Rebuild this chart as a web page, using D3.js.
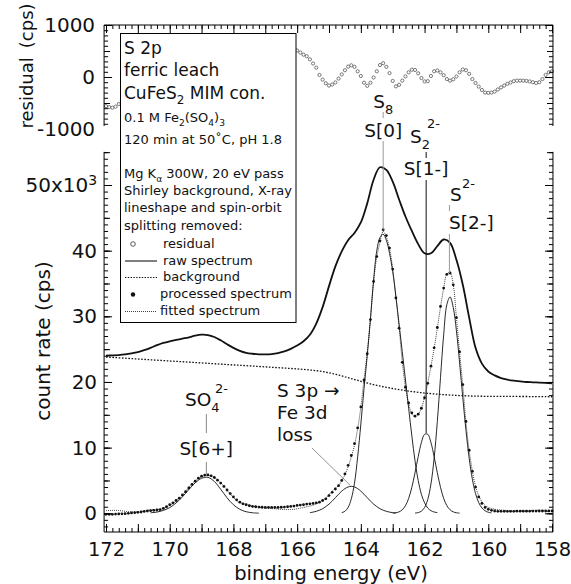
<!DOCTYPE html>
<html>
<head>
<meta charset="utf-8">
<title>S 2p ferric leach</title>
<script src="https://cdn.jsdelivr.net/npm/d3@7"></script>
<style>
  body { margin: 0; background: #fff; }
  svg text { font-family: "DejaVu Sans", sans-serif; fill: #111; }
</style>
</head>
<body>
<svg id="chart" width="571" height="584"></svg>
<script>
// tick labels
var xTickLabels = [172, 170, 168, 166, 164, 162, 160, 158];
var yTickLabels = [0, 10, 20, 30, 40, 50];
var residTickLabels = [-1000, 0, 1000];

// binding energy grid (eV) of processed spectrum + residual, 0.1 eV steps
var energy = d3.range(0, 141).map(function (i) { return +(172 - i * 0.1).toFixed(1); });

// processed spectrum (10^3 cps)
var processed = [
  -0.15, -0.15, -0.15, -0.12, -0.10, -0.08, -0.05, 0.00, 0.05, 0.10,
  0.15, 0.20, 0.28, 0.35, 0.40, 0.45, 0.50, 0.55, 0.75, 1.00,
  1.30, 1.60, 1.95, 2.30, 2.80, 3.30, 3.85, 4.40, 4.90, 5.35,
  5.65, 5.82, 5.85, 5.70, 5.45, 5.05, 4.60, 4.10, 3.55, 3.00,
  2.50, 2.05, 1.70, 1.45, 1.30, 1.15, 1.05, 1.00, 0.95, 0.92,
  0.90, 0.90, 0.90, 0.90, 0.90, 0.92, 0.95, 1.00, 1.05, 1.10,
  1.20, 1.25, 1.30, 1.40, 1.45, 1.50, 1.60, 1.70, 1.95, 2.20,
  2.70, 3.20, 3.70, 4.20, 5.00, 6.00, 7.30, 8.80, 10.6, 13.0,
  16.2, 20.3, 24.3, 29.5, 35.3, 39.1, 41.5, 43.2, 42.3, 40.4,
  37.2, 32.8, 28.2, 23.0, 19.2, 16.8, 15.3, 14.8, 15.1, 16.0,
  17.6, 19.8, 22.4, 25.2, 28.3, 31.5, 34.3, 36.4, 36.6, 34.8,
  29.8, 24.6, 19.6, 14.0, 9.6, 6.4, 4.0, 2.5, 1.5, 0.9,
  0.60, 0.45, 0.35, 0.30, 0.30, 0.30, 0.30, 0.30, 0.30, 0.32,
  0.32, 0.32, 0.33, 0.33, 0.34, 0.34, 0.35, 0.35, 0.35, 0.36,
  0.36
];

// residual (cps)
var residual = [
  -560, -580, -590, -570, -520, -450, -360, -260, -170, -100,
  -60, -40, -50, -80, -110, -120, -100, -60, 0, 60,
  100, 110, 90, 40, -20, -70, -90, -70, -20, 40,
  90, 110, 90, 40, -20, -60, -70, -40, 10, 60,
  90, 80, 40, -10, -50, -60, -40, 0, 50, 90,
  120, 140, 170, 210, 260, 320, 380, 430, 470, 500,
  510, 470, 430, 400, 340, 260, 180, 40, -50, -120,
  -165, -145, -105, -30, 50, 130, 200, 225, 195, 110,
  20, -110, -170, -110, -10, 110, 230, 265, 195, 75,
  -75, -180, -150, -70, 10, 90, 140, 135, 70, -20,
  -85, -80, 20, 110, 125, 90, 35, -40, -70, -45,
  10, 90, 145, 130, 60, -40, -115, -185, -250, -300,
  -305, -300, -280, -240, -200, -165, -130, -105, -80, -70,
  -70, -70, -75, -85, -100, -115, -100, -40, 40, 90,
  110
];

// raw spectrum (10^3 cps), 0.2 eV steps
var rawEnergy = d3.range(0, 71).map(function (i) { return +(172 - i * 0.2).toFixed(1); });
var raw = [
  24.0, 24.05, 24.1, 24.2, 24.35, 24.55, 24.85, 25.2, 25.6, 25.95,
  26.2, 26.4, 26.6, 26.8, 27.05, 27.2, 27.15, 26.85, 26.35, 25.75,
  25.2, 24.75, 24.45, 24.3, 24.2, 24.2, 24.25, 24.4, 24.65, 25.05,
  25.55, 26.2, 27.2, 28.9, 31.4, 34.6, 37.6, 39.9, 41.6, 42.7,
  44.3, 47.2, 50.8, 52.7, 52.3, 50.5, 47.8, 45.2, 43.0, 41.0,
  39.6, 39.6, 40.7, 41.7, 41.2, 38.6, 34.8, 29.8, 25.2, 22.8,
  21.6, 21.0, 20.6, 20.35, 20.2, 20.1, 20.0, 19.95, 19.9, 19.85,
  19.8
];

// Shirley background (10^3 cps)
var bgEnergy = [172, 171.5, 171, 170.5, 170, 169.5, 169, 168.5, 168, 167.5, 167, 166.5, 166,
                165.5, 165, 164.5, 164, 163.5, 163, 162.5, 162, 161.5, 161, 160.5, 160, 159, 158];
var background = [23.8, 23.65, 23.5, 23.35, 23.2, 23.05, 22.9, 22.75, 22.6, 22.45, 22.3, 22.15, 22.0,
                  21.8, 21.45, 20.8, 20.1, 19.45, 19.0, 18.6, 18.3, 18.1, 17.95, 17.85, 17.8, 17.8, 17.75];

// fitted components [eV, 10^3 cps]
var compSO4 = [[170.6, 0.08], [170.4, 0.19], [170.2, 0.44], [170.0, 0.87], [169.8, 1.57], [169.6, 2.51],
  [169.4, 3.61], [169.2, 4.64], [169.0, 5.33], [168.8, 5.47], [168.6, 4.85], [168.4, 3.67], [168.2, 2.36],
  [168.0, 1.30], [167.8, 0.61], [167.6, 0.24], [167.4, 0.08], [167.2, 0.02]];
var compLoss = [[165.6, 0.10], [165.5, 0.18], [165.4, 0.30], [165.3, 0.47], [165.2, 0.70], [165.1, 1.02],
  [165.0, 1.40], [164.9, 1.86], [164.8, 2.38], [164.7, 2.90], [164.6, 3.38], [164.5, 3.76], [164.4, 4.01],
  [164.3, 4.10], [164.2, 4.01], [164.1, 3.76], [164.0, 3.38], [163.9, 2.90], [163.8, 2.38], [163.7, 1.86],
  [163.6, 1.40], [163.5, 1.02], [163.4, 0.70], [163.3, 0.47], [163.2, 0.30], [163.1, 0.18], [163.0, 0.10],
  [162.9, 0.06]];
var compS0 = [[164.6, 0.1], [164.5, 0.3], [164.4, 0.9], [164.3, 2.2], [164.2, 4.6], [164.1, 8.6],
  [164.0, 13.6], [163.9, 19.0], [163.8, 24.0], [163.7, 29.5], [163.6, 35.5], [163.5, 40.0], [163.4, 42.0],
  [163.3, 42.5], [163.2, 41.6], [163.1, 39.6], [163.0, 36.8], [162.9, 33.0], [162.8, 28.8], [162.7, 24.6],
  [162.6, 20.3], [162.5, 16.0], [162.4, 11.8], [162.3, 8.0], [162.2, 5.0], [162.1, 2.9], [162.0, 1.6],
  [161.9, 0.8], [161.8, 0.4], [161.7, 0.2], [161.6, 0.1]];
var compS1 = [[163.0, 0.03], [162.9, 0.08], [162.8, 0.22], [162.7, 0.54], [162.6, 1.16], [162.5, 2.27],
  [162.4, 3.96], [162.3, 6.18], [162.2, 8.62], [162.1, 10.77], [162.0, 12.03], [161.9, 12.03], [161.8, 10.77],
  [161.7, 8.62], [161.6, 6.18], [161.5, 3.96], [161.4, 2.27], [161.3, 1.16], [161.2, 0.54], [161.1, 0.22],
  [161.0, 0.08], [160.9, 0.03]];
var compS2 = [[162.3, 0.03], [162.2, 0.11], [162.1, 0.33], [162.0, 0.88], [161.9, 2.11], [161.8, 4.46],
  [161.7, 8.38], [161.6, 13.97], [161.5, 20.69], [161.4, 27.2], [161.3, 31.8], [161.2, 32.95], [161.1, 31.35],
  [161.0, 27.8], [160.9, 22.9], [160.8, 17.6], [160.7, 12.6], [160.6, 8.4], [160.5, 5.2], [160.4, 3.0],
  [160.3, 1.63], [160.2, 0.82], [160.1, 0.38], [160.0, 0.16], [159.9, 0.06]];

// peak positions (eV) used for the labels
var peakSO4 = 168.85, peakLoss = 164.3, peakS0 = 163.3, peakS1 = 161.95, peakS2 = 161.22;

var svg = d3.select("#chart");

// scales
var x = d3.scaleLinear().domain([172, 158]).range([106, 552]);
var y = d3.scaleLinear().domain([0, 50]).range([513.3, 185]);
var yr = d3.scaleLinear().domain([-1000, 1000]).range([129, 25]);
var xL = x(172.06), xR = x(157.97);
var yB = y(-2.85), yT = y(55.05);
var rT = yr(1000), rB = yr(-942);

// ---------- residual panel ----------
svg.append("g").selectAll("circle")
  .data(energy.map(function (e, i) { return [e, residual[i]]; }))
  .enter().append("circle")
  .attr("cx", function (d) { return x(d[0]); })
  .attr("cy", function (d) { return yr(d[1]); })
  .attr("r", 1.6)
  .attr("fill", "#fff")
  .attr("stroke", "#444")
  .attr("stroke-width", 0.7);

// ---------- main panel lines ----------
var line = d3.line()
  .x(function (d) { return x(d[0]); })
  .y(function (d) { return y(d[1]); });

function drawLine(data, width, dash, curve) {
  svg.append("path")
    .datum(data)
    .attr("fill", "none")
    .attr("stroke", "#111")
    .attr("stroke-width", width)
    .attr("stroke-dasharray", dash)
    .attr("d", line.curve(curve || d3.curveCatmullRom)(data));
}

// components
[compSO4, compLoss, compS0, compS1, compS2].forEach(function (c) { drawLine(c, 0.9, null); });

// background
drawLine(bgEnergy.map(function (e, i) { return [e, background[i]]; }), 1.3, "1.6,1.6", d3.curveBasis);

// raw spectrum
drawLine(rawEnergy.map(function (e, i) { return [e, raw[i]]; }), 1.8, null);

// fitted spectrum = processed - residual
var fitted = energy.map(function (e, i) { return [e, processed[i] - residual[i] / 1000]; });
drawLine(fitted, 0.8, "1,1");

// processed spectrum dots
svg.append("g").selectAll("circle")
  .data(energy.map(function (e, i) { return [e, processed[i]]; }))
  .enter().append("circle")
  .attr("cx", function (d) { return x(d[0]); })
  .attr("cy", function (d) { return y(d[1]); })
  .attr("r", 1.4)
  .attr("fill", "#111");

// ---------- frames and ticks ----------
function frame(x1, y1, x2, y2) {
  svg.append("line").attr("x1", x1).attr("y1", y1).attr("x2", x2).attr("y2", y2)
    .attr("stroke", "#000").attr("stroke-width", 1);
}
frame(xL, yT, xL, yB);
frame(xL, yB, xR, yB);
frame(xR, yT, xR, yB);
frame(xL, rT, xL, rB);
frame(xL, rT, xR, rT);
frame(xR, rT, xR, rB);

function ticks(axis, tx, ty) {
  var g = svg.append("g").attr("transform", "translate(" + tx + "," + ty + ")")
    .attr("color", "#000").call(axis);
  g.select(".domain").remove();
  return g;
}
var xMinor = d3.range(1580, 1721, 2).map(function (v) { return v / 10; });
var xMajor = d3.range(158, 173);
ticks(d3.axisBottom(x).tickValues(xMinor).tickSize(-4).tickFormat(""), 0, yB);
ticks(d3.axisBottom(x).tickValues(xMajor).tickSize(-8).tickFormat(""), 0, yB);
ticks(d3.axisTop(x).tickValues(xMinor).tickSize(-4).tickFormat(""), 0, rT);
ticks(d3.axisTop(x).tickValues(xMajor).tickSize(-8).tickFormat(""), 0, rT);

var yMinor = d3.range(-2, 56), yMid = d3.range(0, 56, 5);
[[d3.axisLeft, xL], [d3.axisRight, xR]].forEach(function (a) {
  ticks(a[0](y).tickValues(yMinor).tickSize(-4).tickFormat(""), a[1], 0);
  ticks(a[0](y).tickValues(yMid).tickSize(-6).tickFormat(""), a[1], 0);
  ticks(a[0](y).tickValues(yTickLabels).tickSize(-8).tickFormat(""), a[1], 0);
  ticks(a[0](yr).tickValues(d3.range(-900, 1001, 100)).tickSize(-4).tickFormat(""), a[1], 0);
  ticks(a[0](yr).tickValues([-500, 500]).tickSize(-6).tickFormat(""), a[1], 0);
  ticks(a[0](yr).tickValues([0, 1000]).tickSize(-8).tickFormat(""), a[1], 0);
});

// tick labels
function plain(d) { return String(d); }
var gx = ticks(d3.axisBottom(x).tickValues(xTickLabels).tickSize(0).tickPadding(10).tickFormat(plain), 0, yB);
gx.selectAll("text").attr("font-size", 19.5).attr("font-family", "DejaVu Sans").attr("fill", "#111");
var gy = ticks(d3.axisLeft(y).tickValues(yTickLabels).tickSize(0).tickPadding(7).tickFormat(plain), xL, 0);
gy.selectAll("text").attr("font-size", 20).attr("font-family", "DejaVu Sans").attr("fill", "#111")
  .each(function (d) {
    if (d === 50) {
      var t = d3.select(this).text("50x10");
      t.append("tspan").attr("dy", "-0.5em").attr("font-size", 14).text("3");
    }
  });
var gr = ticks(d3.axisLeft(yr).tickValues(residTickLabels).tickSize(0).tickPadding(9).tickFormat(plain), xL, 0);
gr.selectAll("text").attr("font-size", 20).attr("font-family", "DejaVu Sans").attr("fill", "#111");

// axis titles
svg.append("text").attr("transform", "translate(33,66) rotate(-90)")
  .attr("text-anchor", "middle").attr("font-size", 18).text("residual\u2002(cps)");
svg.append("text").attr("transform", "translate(50,341) rotate(-90)")
  .attr("text-anchor", "middle").attr("font-size", 20).text("count rate (cps)");
svg.append("text").attr("x", 331).attr("y", 580)
  .attr("text-anchor", "middle").attr("font-size", 19.5).text("binding energy (eV)");

// ---------- rich text helper ----------
function rich(sel, parts, size) {
  var shift = 0;
  parts.forEach(function (p) {
    var want = p[1] === "sub" ? size * 0.3 : p[1] === "sup" ? -size * 0.5 : 0;
    var t = sel.append("tspan").attr("dy", want - shift).text(p[0]);
    if (p[1]) t.attr("font-size", size * 0.7);
    shift = want;
  });
}
function label(px, py, parts, size, anchor) {
  var t = svg.append("text").attr("x", px).attr("y", py).attr("font-size", size)
    .attr("text-anchor", anchor || "start");
  rich(t, parts, size);
  return t;
}

// ---------- legend box ----------
svg.append("rect").attr("x", 120.5).attr("y", 33.5).attr("width", 175.5).attr("height", 289)
  .attr("fill", "#fff").attr("stroke", "#000").attr("stroke-width", 1);

var infoLines = [
  [54, 17, [["S 2p"]]],
  [76, 17, [["ferric leach"]]],
  [99, 17, [["CuFeS"], ["2", "sub"], [" MIM con."]]],
  [122, 13, [["0.1 M Fe"], ["2", "sub"], ["(SO"], ["4", "sub"], [")"], ["3", "sub"]]],
  [144, 13, [["120 min at 50\u02daC, pH 1.8"]]],
  [178, 13, [["Mg K"], ["\u03b1", "sub"], [" 300W, 20 eV pass"]]],
  [195, 13, [["Shirley background, X-ray"]]],
  [212, 13, [["lineshape and spin-orbit"]]],
  [230, 13, [["splitting removed:"]]]
];
infoLines.forEach(function (l) { label(124, l[0], l[2], l[1]); });

label(163, 248, [["residual"]], 13);
label(163, 265, [["raw spectrum"]], 13);
label(163, 281, [["background"]], 13);
label(160, 298, [["processed spectrum"]], 13);
label(160, 315, [["fitted spectrum"]], 13);
svg.append("circle").attr("cx", 133).attr("cy", 244).attr("r", 2.3)
  .attr("fill", "#fff").attr("stroke", "#333").attr("stroke-width", 0.8);
frame(125, 261, 157, 261);
svg.append("line").attr("x1", 125).attr("y1", 277.5).attr("x2", 157).attr("y2", 277.5)
  .attr("stroke", "#111").attr("stroke-width", 1.2).attr("stroke-dasharray", "1.4,1.4");
svg.append("circle").attr("cx", 133).attr("cy", 294.5).attr("r", 2.2).attr("fill", "#111");
svg.append("line").attr("x1", 125).attr("y1", 311.5).attr("x2", 157).attr("y2", 311.5)
  .attr("stroke", "#111").attr("stroke-width", 0.8).attr("stroke-dasharray", "1,1");

// ---------- peak annotations ----------
function vline(e, y1, y2, color) {
  svg.append("line").attr("x1", x(e)).attr("x2", x(e)).attr("y1", y1).attr("y2", y2)
    .attr("stroke", color).attr("stroke-width", 1);
}
var F = 18.5;
// S8 / S[0]
label(x(peakS0), 108, [["S"], ["8", "sub"]], F, "middle");
label(x(peakS0), 137, [["S[0]"]], F, "middle");
vline(peakS0, 112, 118, "#999");
vline(peakS0, 141, y(43.2), "#999");
// S2 2- / S[1-]
label(410, 143, [["S"], ["2", "sub"]], F);
label(427, 128, [["2-"]], 13);
label(x(peakS1), 175, [["S[1-]"]], F, "middle");
vline(peakS1, 152, 158, "#111");
vline(peakS1, 180, y(12.2), "#111");
// S 2- / S[2-]
label(450, 201, [["S"]], F);
label(462, 188, [["2-"]], 13);
label(x(peakS2) + 22, 229, [["S[2-]"]], F, "middle");
vline(peakS2, 205, 211, "#999");
vline(peakS2, 234, y(36.6), "#999");
// SO4 2- / S[6+]
label(185, 406, [["SO"], ["4", "sub"]], F);
label(215, 393, [["2-"]], 13);
label(x(peakSO4), 455, [["S[6+]"]], F, "middle");
vline(peakSO4, 414, 433, "#888");
vline(peakSO4, 462, y(5.85), "#888");
// loss
label(277, 397, [["S 3p \u2192"]], F);
label(277, 419, [["Fe 3d"]], F);
label(277, 441, [["loss"]], F);
svg.append("line").attr("x1", 312).attr("y1", 448).attr("x2", x(peakLoss) - 1).attr("y2", y(4.1) - 1)
  .attr("stroke", "#777").attr("stroke-width", 0.8);
</script>
</body>
</html>
